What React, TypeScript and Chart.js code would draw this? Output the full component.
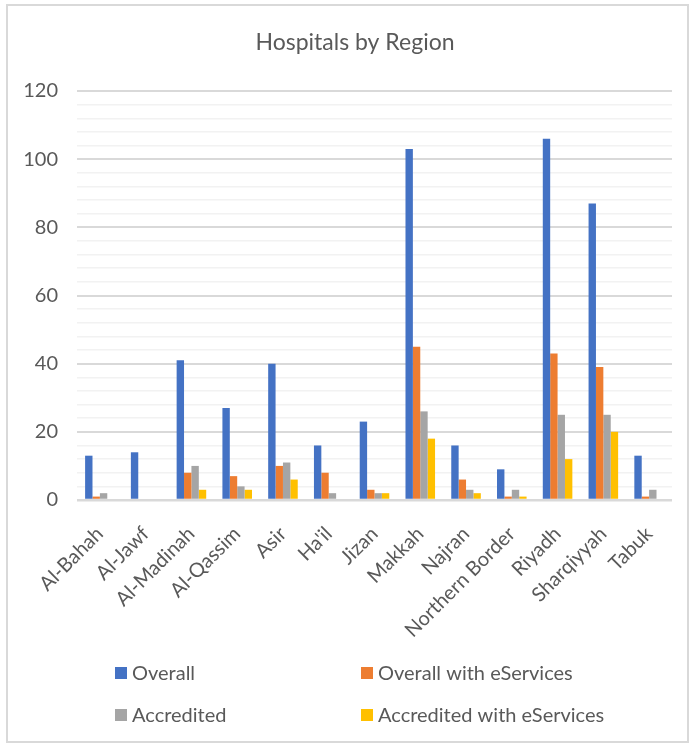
import React, { useEffect, useRef } from "react";
import { Chart, registerables } from "chart.js";

Chart.register(...registerables);

const chartTitle = "Hospitals by Region";

const regions = [
  "Al-Bahah",
  "Al-Jawf",
  "Al-Madinah",
  "Al-Qassim",
  "Asir",
  "Ha'il",
  "Jizan",
  "Makkah",
  "Najran",
  "Northern Border",
  "Riyadh",
  "Sharqiyyah",
  "Tabuk",
];

const overall = [13, 14, 41, 27, 40, 16, 23, 103, 16, 9, 106, 87, 13];
const overallWithEServices = [1, 0, 8, 7, 10, 8, 3, 45, 6, 1, 43, 39, 1];
const accredited = [2, 0, 10, 4, 11, 2, 2, 26, 3, 3, 25, 25, 3];
const accreditedWithEServices = [0, 0, 3, 3, 6, 0, 2, 18, 2, 1, 12, 20, 0];

const seriesNames = [
  "Overall",
  "Overall with eServices",
  "Accredited",
  "Accredited with eServices",
];
const seriesColors = ["#4472C4", "#ED7D31", "#A5A5A5", "#FFC000"];

const FONT = "Lato, 'Open Sans', sans-serif";
const TEXT = "#595959";

// White card with a light frame and the centred heading.
const framePlugin = {
  id: "frame",
  beforeDraw(chart: any) {
    const { ctx, width, height } = chart;
    ctx.save();
    ctx.fillStyle = "#ffffff";
    ctx.fillRect(0, 0, width, height);
    ctx.strokeStyle = "#d9d9d9";
    ctx.lineWidth = 2;
    ctx.strokeRect(7, 5, width - 14, height - 9);
    ctx.font = `23px ${FONT}`;
    ctx.fillStyle = TEXT;
    ctx.textAlign = "center";
    ctx.textBaseline = "middle";
    ctx.fillText(chartTitle, 355, 43);
    ctx.restore();
  },
};

// Two-column legend beneath the axis labels.
const gridLegendPlugin = {
  id: "gridLegend",
  afterDraw(chart: any) {
    const { ctx } = chart;
    const colX = [115, 361];
    const rowY = [667, 709];
    const box = 12;
    ctx.save();
    ctx.font = `20px ${FONT}`;
    ctx.textBaseline = "middle";
    ctx.textAlign = "left";
    chart.data.datasets.forEach((ds: any, i: number) => {
      const x = colX[i % 2];
      const y = rowY[Math.floor(i / 2)];
      ctx.fillStyle = ds.backgroundColor;
      ctx.fillRect(x, y, box, box);
      ctx.fillStyle = TEXT;
      ctx.fillText(ds.label, x + box + 5, y + box / 2 + 1);
    });
    ctx.restore();
  },
};

export default function App() {
  const canvasRef = useRef<HTMLCanvasElement | null>(null);

  useEffect(() => {
    if (!canvasRef.current) return;
    const series = [overall, overallWithEServices, accredited, accreditedWithEServices];
    const chart = new Chart(canvasRef.current, {
      type: "bar",
      data: {
        labels: regions,
        datasets: series.map((values, i) => ({
          label: seriesNames[i],
          data: values,
          backgroundColor: seriesColors[i],
          borderWidth: 0,
          categoryPercentage: 0.646,
          barPercentage: 1,
        })),
      },
      options: {
        responsive: false,
        animation: false,
        layout: {
          padding: { left: 0, right: 23, top: 91, bottom: 96 },
        },
        plugins: {
          legend: { display: false },
          tooltip: { enabled: false },
          title: { display: false },
        },
        scales: {
          x: {
            grid: { display: false },
            border: { display: false },
            ticks: {
              autoSkip: false,
              minRotation: 45,
              maxRotation: 45,
              color: TEXT,
              padding: 14,
              font: { family: FONT, size: 20 },
            },
            afterFit(scale: any) {
              scale.height = 150;
            },
          },
          y: {
            min: 0,
            max: 120,
            border: { display: false },
            grid: {
              drawTicks: false,
              color: (c: any) => (c.tick && c.tick.value % 20 === 0 ? "#d9d9d9" : "#f2f2f2"),
              lineWidth: (c: any) =>
                c.tick && c.tick.value === 0 ? 2.5 : c.tick && c.tick.value % 20 === 0 ? 2 : 1.5,
            },
            ticks: {
              stepSize: 4,
              autoSkip: false,
              color: TEXT,
              padding: 19,
              font: { family: FONT, size: 20 },
              callback: (v: any) => (Number(v) % 20 === 0 ? String(v) : ""),
            },
            afterFit(scale: any) {
              scale.width = 77;
            },
          },
        },
      },
      plugins: [framePlugin, gridLegendPlugin],
    });
    return () => chart.destroy();
  }, []);

  return (
    <div style={{ position: "fixed", left: 0, top: 0, width: 695, height: 746, background: "#fff" }}>
      <canvas ref={canvasRef} width={695} height={746} />
    </div>
  );
}
